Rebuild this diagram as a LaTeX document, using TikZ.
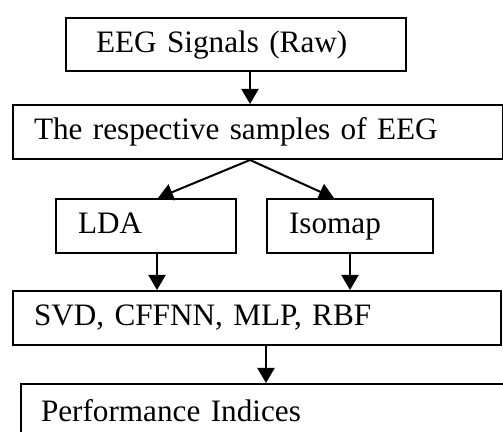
\documentclass[tikz,border=0pt]{standalone}
\usepackage{fontspec}
\setmainfont{Liberation Serif}
\usetikzlibrary{arrows.meta, positioning}
\tikzset{x=0.5pt, y=-0.5pt, % one unit is one pixel of the page
box/.style={ % Sets the properties for each step box
draw, line width=1pt,
anchor=north west,
minimum height=27pt,
inner ysep=0pt, inner xsep=10.5pt,
text height=11.5pt, text depth=3.5pt, % same baseline in every box
align=left,
font=\fontsize{15.6}{18}\selectfont},
arr/.style={ % Sets the properties for each arrow
draw, line width=1pt,
-{Triangle[length=7.5pt,width=8.5pt]}}}

\begin{document}
\begin{tikzpicture}

    \clip (0,0) rectangle (503,432);

    \node[box, inner xsep=15pt, text width=140pt, minimum height=26.5pt] (raw) at (65,17) {EEG Signals (Raw)};
    \node[box, text width=224pt] (samples) at (12,104) {The respective samples of EEG};
    \node[box, inner xsep=11pt, text width=68pt] (lda) at (55,198) {LDA};
    \node[box, inner xsep=11pt, text width=61pt] (isomap) at (266,198) {Isomap};
    \node[box, text width=223pt] (clf) at (12,290) {SVD, CFFNN, MLP, RBF};
    \node[box, inner xsep=10pt, text width=230pt, minimum height=30pt] (perf) at (20,383) {Performance Indices};

    \draw[arr] (raw.south -| 250,0) -- (samples.north -| 250,0);
    \draw[arr] (samples.south -| 250,0) -- (lda.north -| 158,0);
    \draw[arr] (samples.south -| 250,0) -- (isomap.north -| 334,0);
    \draw[arr] (lda.south -| 157,0) -- (clf.north -| 157,0);
    \draw[arr] (isomap.south -| 350,0) -- (clf.north -| 350,0);
    \draw[arr] (clf.south -| 266,0) -- (perf.north -| 266,0);

\end{tikzpicture}
\end{document}
